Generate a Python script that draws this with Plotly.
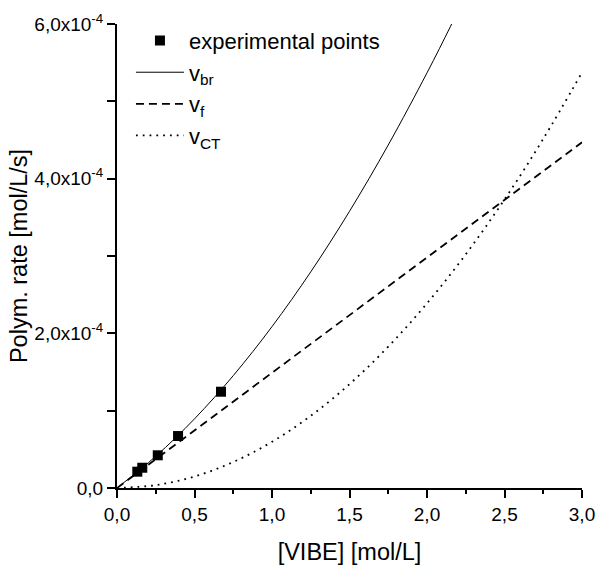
import plotly.graph_objects as go

# Experimental points
exp_x = [0.131, 0.163, 0.263, 0.394, 0.671]
exp_y = [0.211e-4, 0.262e-4, 0.423e-4, 0.672e-4, 1.245e-4]

# Curve readings
br_x = [0, 0.25, 0.5, 0.75, 1.0, 1.25, 1.5, 1.75, 2.0, 2.15, 2.25]
br_y = [0, 0.410e-4, 0.894e-4, 1.453e-4, 2.087e-4, 2.795e-4, 3.578e-4, 4.436e-4, 5.368e-4, 5.963e-4, 6.375e-4]

f_x = [0, 3.0]
f_y = [0, 4.47e-4]

ct_x = [0, 0.25, 0.5, 0.75, 1.0, 1.25, 1.5, 1.75, 2.0, 2.25, 2.5, 2.75, 3.0]
ct_y = [0, 0.037e-4, 0.149e-4, 0.336e-4, 0.597e-4, 0.933e-4, 1.343e-4, 1.828e-4,
        2.388e-4, 3.022e-4, 3.731e-4, 4.515e-4, 5.373e-4]

x_ticks = [0, 0.5, 1.0, 1.5, 2.0, 2.5, 3.0]
x_ticktext = ["0,0", "0,5", "1,0", "1,5", "2,0", "2,5", "3,0"]
y_ticks = [0, 2e-4, 4e-4, 6e-4]
y_ticktext = ["0,0", "2,0x10<sup>-4</sup>", "4,0x10<sup>-4</sup>", "6,0x10<sup>-4</sup>"]

FONT = "Liberation Sans, Arial, sans-serif"

fig = go.Figure()
fig.add_trace(go.Scatter(x=exp_x, y=exp_y, mode="markers", name="experimental points",
                         marker=dict(symbol="square", size=10, color="black")))
fig.add_trace(go.Scatter(x=br_x, y=br_y, mode="lines", name="v<sub>br</sub>",
                         line=dict(color="black", width=1, shape="spline")))
fig.add_trace(go.Scatter(x=f_x, y=f_y, mode="lines", name="v<sub>f</sub>",
                         line=dict(color="black", width=1.8, dash="8px,5px")))
fig.add_trace(go.Scatter(x=ct_x, y=ct_y, mode="lines", name="v<sub>CT</sub>",
                         line=dict(color="black", width=1.8, dash="1.8px,5px", shape="spline")))

fig.update_layout(
    template="none",
    width=598, height=565,
    margin=dict(l=117, r=16, t=24, b=77, autoexpand=False),
    paper_bgcolor="white", plot_bgcolor="white",
    font=dict(family=FONT, color="black", size=19),
    showlegend=True,
    legend=dict(x=0.03, y=1.009, xanchor="left", yanchor="top",
                font=dict(size=22, family=FONT), bgcolor="rgba(0,0,0,0)",
                tracegroupgap=0, itemwidth=48, borderwidth=0),
    xaxis=dict(range=[0, 3.0], tickvals=x_ticks, ticktext=x_ticktext, automargin=False,
               showgrid=False, zeroline=False, showline=True, linecolor="black", linewidth=2,
               ticks="outside", ticklen=8, tickwidth=2, tickcolor="black",
               minor=dict(dtick=0.25, ticks="outside", ticklen=4, tickwidth=2, tickcolor="black", showgrid=False),
               tickfont=dict(size=19),
               title=dict(text="[VIBE] [mol/L]", font=dict(size=23.5), standoff=22)),
    yaxis=dict(range=[0, 6e-4], tickvals=y_ticks, ticktext=y_ticktext, automargin=False,
               showgrid=False, zeroline=False, showline=True, linecolor="black", linewidth=2,
               ticks="outside", ticklen=8, tickwidth=2, tickcolor="black",
               minor=dict(dtick=1e-4, ticks="outside", ticklen=8, tickwidth=2, tickcolor="black", showgrid=False),
               tickfont=dict(size=19),
               title=dict(text="Polym. rate [mol/L/s]", font=dict(size=23.5), standoff=0)),
)

fig.write_html("out.html")
